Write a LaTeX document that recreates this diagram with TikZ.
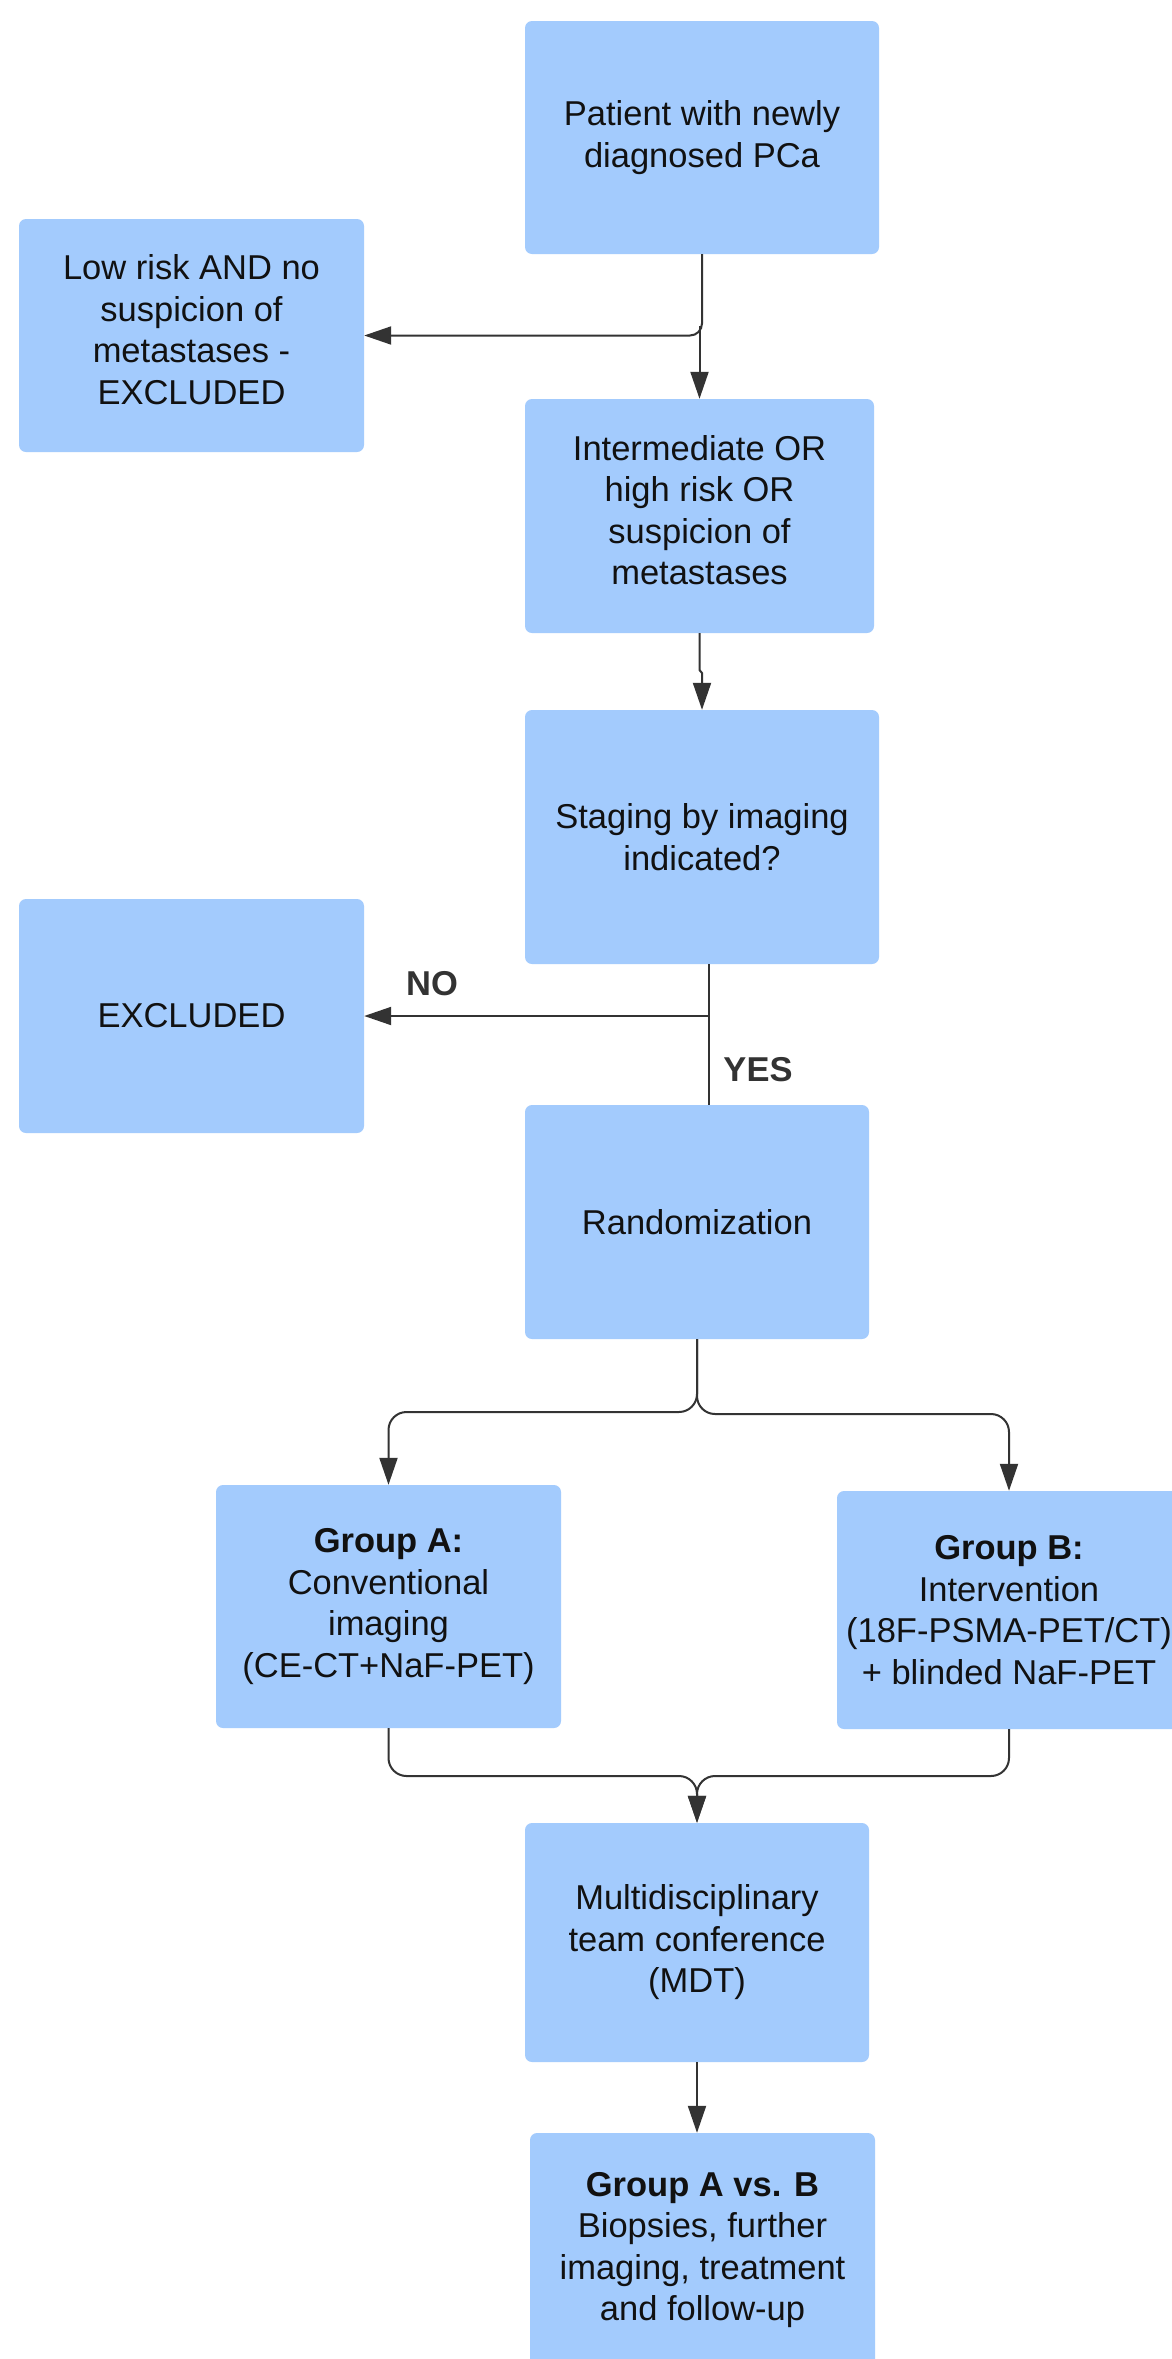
\documentclass[tikz,border=0pt]{standalone}
\usepackage{fontspec}
\setmainfont{Liberation Sans}
\usetikzlibrary{arrows.meta}
\definecolor{boxblue}{RGB}{163,203,253}
\definecolor{linegray}{RGB}{51,51,51}
\definecolor{txt}{RGB}{17,17,17}
\begin{document}
\begin{tikzpicture}[x=1pt,y=-1pt,
  box/.style={fill=boxblue, rounded corners=7pt, inner sep=0pt, align=center, text=txt,
    font=\fontsize{34.5pt}{41.5pt}\selectfont},
  btext/.style={inner sep=0pt, align=center, text=txt, font=\fontsize{34.5pt}{41.5pt}\selectfont},
  lbl/.style={text=linegray, font=\fontsize{34.5pt}{41.5pt}\selectfont\bfseries, inner sep=0pt},
  conn/.style={draw=linegray, line width=2pt},
  arr/.style={conn, -{Triangle[length=27pt,width=18pt]}}]
\useasboundingbox (0,0) rectangle (1172,2359);
\clip (0,0) rectangle (1172,2359);
\fill[white] (0,0) rectangle (1172,2359);

\node[box, minimum width=354pt, minimum height=233pt] (pat) at (702,137.5) {Patient with newly\\diagnosed PCa};
\node[box, minimum width=345pt, minimum height=233pt] (low) at (191.5,335.5) {};
\node[btext] (lowt) at (191.5,329.5) {Low risk AND no\\suspicion of\\metastases -\\EXCLUDED};
\node[box, minimum width=349pt, minimum height=234pt] (inter) at (699.5,516) {};
\node[btext] (intert) at (699.5,510) {Intermediate OR\\high risk OR\\suspicion of\\metastases};
\node[box, minimum width=354pt, minimum height=254pt] (stag) at (702,837) {Staging by imaging\\indicated?};
\node[box, minimum width=345pt, minimum height=234pt] (excl) at (191.5,1016) {EXCLUDED};
\node[box, minimum width=344pt, minimum height=234pt] (rand) at (697,1222) {Randomization};
\node[box, minimum width=345pt, minimum height=243pt] (ga) at (388.5,1606.5) {\textbf{Group A:}\\Conventional\\imaging\\(CE-CT+NaF-PET)};
\node[box, minimum width=344pt, minimum height=238pt] (gb) at (1009,1610) {\textbf{Group B:}\\Intervention\\(18F-PSMA-PET/CT)\\+ blinded NaF-PET};
\node[box, minimum width=344pt, minimum height=239pt] (mdt) at (697,1942.5) {Multidisciplinary\\team conference\\(MDT)};
\node[box, minimum width=345pt, minimum height=234pt] (fin) at (702.5,2250) {\textbf{Group A vs. B}\\Biopsies, further\\imaging, treatment\\and follow-up};

\node[lbl] (no) at (432,984) {NO};
\node[lbl] (yes) at (758,1070) {YES};

% patient -> low risk / intermediate
\draw[arr, rounded corners=12pt] (pat.south) -- (pat.south |- low.east) -- (low.east);
\coordinate (br) at (699.5,326);
\draw[arr] (br) -- (inter.north);

% intermediate -> staging
\coordinate (j1) at (699.5,670);
\coordinate (j2) at (702,673);
\draw[arr] (inter.south) -- (j1) -- (j2) -- (stag.north);

% staging -> excluded / randomization
\coordinate (vx) at (709,0);
\draw[conn] (stag.south -| vx) -- (rand.north -| vx);
\draw[arr] (excl.east -| vx) -- (excl.east);

% randomization -> groups
\coordinate (sa) at (697,1412);
\coordinate (sb) at (697,1414);
\draw[arr, rounded corners=18pt] (rand.south) -- (sa) -| (ga.north);
\draw[arr, rounded corners=18pt] (rand.south) -- (sb) -| (gb.north);

% groups -> MDT
\coordinate (m) at (697,1776);
\draw[arr, rounded corners=18pt] (ga.south) |- (m) -- (mdt.north);
\draw[arr, rounded corners=18pt] (gb.south) |- (m) -- (mdt.north);

% MDT -> final
\draw[arr] (mdt.south) -- (mdt.south |- fin.north);
\end{tikzpicture}
\end{document}
